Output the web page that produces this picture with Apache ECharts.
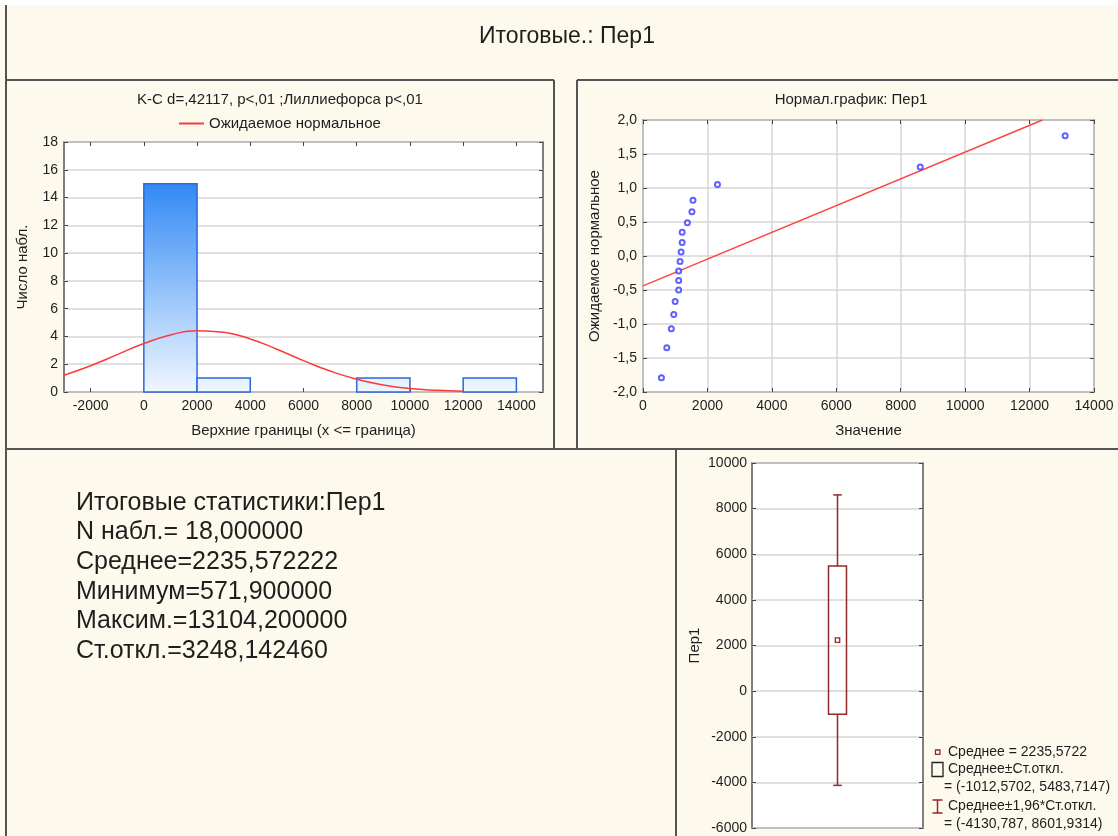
<!DOCTYPE html>
<html><head><meta charset="utf-8">
<script src="https://cdn.jsdelivr.net/npm/echarts@6/dist/echarts.min.js"></script>
<style>html,body{margin:0;padding:0;background:#fff;}#c{width:1118px;height:836px;}</style>
</head><body><div id="c"></div>
<script>
// ---------- data ----------
const mainTitle = 'Итоговые.: Пер1';

const histTitle = 'K-C d=,42117, p<,01 ;Лиллиефорса p<,01';
const histLegend = 'Ожидаемое нормальное';
const histXName = 'Верхние границы (x <= граница)';
const histYName = 'Число набл.';
const histBinLow  = [0, 2000, 4000, 6000, 8000, 10000, 12000];
const histBinHigh = [2000, 4000, 6000, 8000, 10000, 12000, 14000];
const histCounts  = [15, 1, 0, 0, 1, 0, 1];
const histXTicks  = [-2000, 0, 2000, 4000, 6000, 8000, 10000, 12000, 14000];
const normCurveX  = [-3000, -2000, -1000, 0, 1000, 2000, 3000, 4000, 5000, 6000, 7000, 8000, 9000, 10000, 11000, 12000];
const normCurveY  = [1.21, 1.89, 2.69, 3.49, 4.11, 4.41, 4.30, 3.82, 3.08, 2.26, 1.51, 0.92, 0.51, 0.25, 0.12, 0.05];

const probTitle = 'Нормал.график: Пер1';
const probXName = 'Значение';
const probYName = 'Ожидаемое нормальное';
const probValues = [572, 738, 879, 955, 998, 1107, 1107, 1107, 1150, 1183, 1216, 1216, 1378, 1519, 1552, 2312, 8606, 13104];
const probScores = [-1.79, -1.35, -1.07, -0.86, -0.67, -0.50, -0.36, -0.22, -0.08, 0.06, 0.20, 0.35, 0.49, 0.65, 0.82, 1.05, 1.31, 1.77];
const probLineX = [0, 12400];
const probLineY = [-0.44, 2.0];

const boxName = 'Пер1';
const boxMean = [2235.5722];
const boxSd   = [-1012.5702, 5483.7147];
const boxCi   = [-4130.787, 8601.9314];
const boxLegendLines = ['Среднее = 2235,5722', 'Среднее±Ст.откл.', '= (-1012,5702, 5483,7147)', 'Среднее±1,96*Ст.откл.', '= (-4130,787, 8601,9314)'];

const statsLines = ['Итоговые статистики:Пер1', 'N набл.= 18,000000', 'Среднее=2235,572222', 'Минимум=571,900000', 'Максим.=13104,200000', 'Ст.откл.=3248,142460'];

// ---------- styles ----------
const FONT = '"Liberation Sans", Arial, sans-serif';
const TXT = '#1e1e1e';
const GRIDC = '#d6d6d6';
const BORDER = '#555';
const BOXRED = '#8e2a2a';
const lbl = {color: TXT, fontSize: 14, fontFamily: FONT};
const nameStyle = {color: TXT, fontSize: 15, fontFamily: FONT};
const tickIn = {show: true, inside: true, length: 4, lineStyle: {color: '#444', width: 1}};
const noLine = {show: false, onZero: false};
const intFmt = v => String(v);

const chart = echarts.init(document.getElementById('c'), null, {renderer: 'canvas'});

const gridBase = {show: true, backgroundColor: '#fff', borderColor: BORDER, borderWidth: 1.5, containLabel: false};

const option = {
  backgroundColor: '#fdf9ed',
  animation: false,
  textStyle: {fontFamily: FONT},
  legend: {
    data: [histLegend], left: 179, top: 116, padding: 0,
    icon: 'rect', itemWidth: 25, itemHeight: 2,
    textStyle: {color: TXT, fontSize: 15, fontFamily: FONT}
  },
  grid: [
    Object.assign({left: 64, top: 142, width: 479, height: 250}, gridBase),
    Object.assign({left: 643, top: 120, width: 451, height: 272}, gridBase),
    Object.assign({left: 752, top: 463, width: 171, height: 365}, gridBase)
  ],
  xAxis: [
    {gridIndex: 0, type: 'value', min: -3000, max: 15000, position: 'bottom',
     axisLine: noLine, axisTick: Object.assign({customValues: histXTicks}, tickIn),
     axisLabel: Object.assign({customValues: histXTicks, formatter: intFmt, margin: 7}, lbl),
     splitLine: {show: false},
     name: histXName, nameLocation: 'middle', nameGap: 31, nameTextStyle: nameStyle},
    {gridIndex: 0, type: 'value', min: -3000, max: 15000, position: 'top',
     axisLine: noLine, axisTick: Object.assign({customValues: histXTicks}, tickIn),
     axisLabel: {show: false, customValues: histXTicks}, splitLine: {show: false}},
    {gridIndex: 1, type: 'value', min: 0, max: 14000, interval: 2000, position: 'bottom',
     axisLine: noLine, axisTick: tickIn,
     axisLabel: Object.assign({formatter: intFmt, margin: 7}, lbl),
     splitLine: {show: true, lineStyle: {color: GRIDC, width: 1.5}},
     name: probXName, nameLocation: 'middle', nameGap: 31, nameTextStyle: nameStyle},
    {gridIndex: 1, type: 'value', min: 0, max: 14000, interval: 2000, position: 'top',
     axisLine: noLine, axisTick: tickIn, axisLabel: {show: false}, splitLine: {show: false}},
    {gridIndex: 2, type: 'category', data: [boxName], position: 'bottom',
     axisLine: noLine, axisTick: {show: false}, axisLabel: {show: false}, splitLine: {show: false}}
  ],
  yAxis: [
    {gridIndex: 0, type: 'value', min: 0, max: 18, interval: 2, position: 'left',
     axisLine: noLine, axisTick: tickIn,
     axisLabel: Object.assign({formatter: intFmt, margin: 6}, lbl),
     splitLine: {show: true, lineStyle: {color: GRIDC, width: 1.5}},
     name: histYName, nameLocation: 'middle', nameGap: 34, nameTextStyle: nameStyle},
    {gridIndex: 0, type: 'value', min: 0, max: 18, interval: 2, position: 'right',
     axisLine: noLine, axisTick: tickIn, axisLabel: {show: false}, splitLine: {show: false}},
    {gridIndex: 1, type: 'value', min: -2, max: 2, interval: 0.5, position: 'left',
     axisLine: noLine, axisTick: tickIn,
     axisLabel: Object.assign({formatter: v => v.toFixed(1).replace('.', ','), margin: 6}, lbl),
     splitLine: {show: true, lineStyle: {color: GRIDC, width: 1.5}},
     name: probYName, nameLocation: 'middle', nameGap: 41, nameTextStyle: nameStyle},
    {gridIndex: 1, type: 'value', min: -2, max: 2, interval: 0.5, position: 'right',
     axisLine: noLine, axisTick: tickIn, axisLabel: {show: false}, splitLine: {show: false}},
    {gridIndex: 2, type: 'value', min: -6000, max: 10000, interval: 2000, position: 'left',
     axisLine: noLine, axisTick: tickIn,
     axisLabel: Object.assign({formatter: intFmt, margin: 5}, lbl),
     splitLine: {show: true, lineStyle: {color: GRIDC, width: 1.5}},
     name: boxName, nameLocation: 'middle', nameGap: 50, nameTextStyle: nameStyle},
    {gridIndex: 2, type: 'value', min: -6000, max: 10000, interval: 2000, position: 'right',
     axisLine: noLine, axisTick: tickIn, axisLabel: {show: false}, splitLine: {show: false}}
  ],
  series: [
    {
      type: 'custom', name: 'hist', xAxisIndex: 0, yAxisIndex: 0, z: 2,
      data: histBinLow.map((lo, i) => [lo, histBinHigh[i], histCounts[i]]),
      encode: {x: [0, 1], y: 2},
      renderItem: function (params, api) {
        const c = api.value(2);
        if (!c) return null;
        const p0 = api.coord([api.value(0), 0]);
        const p1 = api.coord([api.value(1), c]);
        const yTop = api.coord([0, 18])[1];
        return {
          type: 'rect',
          shape: {x: p0[0], y: p1[1], width: p1[0] - p0[0], height: p0[1] - p1[1]},
          style: {
            fill: {type: 'linear', x: 0, y: yTop, x2: 0, y2: p0[1], global: true,
                   colorStops: [{offset: 0, color: '#0a74f2'}, {offset: 1, color: '#f0f7ff'}]},
            stroke: '#2f66d8', lineWidth: 1.5
          }
        };
      }
    },
    {
      type: 'line', name: histLegend, xAxisIndex: 0, yAxisIndex: 0, z: 3,
      data: normCurveX.map((x, i) => [x, normCurveY[i]]),
      smooth: true, symbol: 'none', showSymbol: false,
      lineStyle: {color: '#ff3838', width: 1.5}, itemStyle: {color: '#ff3838'}
    },
    {
      type: 'line', name: 'fit', xAxisIndex: 2, yAxisIndex: 2, z: 3,
      data: probLineX.map((x, i) => [x, probLineY[i]]),
      symbol: 'none', lineStyle: {color: '#ff4444', width: 1.5}
    },
    {
      type: 'scatter', name: 'obs', xAxisIndex: 2, yAxisIndex: 2, z: 4,
      data: probValues.map((v, i) => [v, probScores[i]]),
      symbol: 'emptyCircle', symbolSize: 5,
      itemStyle: {color: '#3a3aff', borderWidth: 1.5}
    },
    {
      type: 'custom', name: 'box', xAxisIndex: 4, yAxisIndex: 4, z: 3,
      data: [[0, boxMean[0], boxSd[0], boxSd[1], boxCi[0], boxCi[1]]],
      renderItem: function (params, api) {
        const x = api.coord([api.value(0), 0])[0];
        const yMean = api.coord([0, api.value(1)])[1];
        const ySdLo = api.coord([0, api.value(2)])[1];
        const ySdHi = api.coord([0, api.value(3)])[1];
        const yCiLo = api.coord([0, api.value(4)])[1];
        const yCiHi = api.coord([0, api.value(5)])[1];
        const bw = 18, cw = 8.5;
        const st = {stroke: BOXRED, lineWidth: 1.5, fill: null};
        return {
          type: 'group',
          children: [
            {type: 'line', shape: {x1: x, y1: yCiHi, x2: x, y2: ySdHi}, style: st},
            {type: 'line', shape: {x1: x, y1: ySdLo, x2: x, y2: yCiLo}, style: st},
            {type: 'line', shape: {x1: x - cw / 2, y1: yCiHi, x2: x + cw / 2, y2: yCiHi}, style: st},
            {type: 'line', shape: {x1: x - cw / 2, y1: yCiLo, x2: x + cw / 2, y2: yCiLo}, style: st},
            {type: 'rect', shape: {x: x - bw / 2, y: ySdHi, width: bw, height: ySdLo - ySdHi}, style: {stroke: BOXRED, lineWidth: 1.5, fill: 'rgba(0,0,0,0)'}},
            {type: 'rect', shape: {x: x - 2.2, y: yMean - 2.2, width: 4.4, height: 4.4}, style: {stroke: BOXRED, lineWidth: 1.3, fill: '#fff'}}
          ]
        };
      }
    }
  ],
  graphic: []
};

// frame, titles, text block, box legend
const G = option.graphic;
const ln = (x1, y1, x2, y2) => G.push({type: 'line', silent: true, shape: {x1, y1, x2, y2}, style: {stroke: BORDER, lineWidth: 2}});
G.push({type: 'rect', silent: true, shape: {x: 0, y: 0, width: 1118, height: 5}, style: {fill: '#fff'}});
ln(6, 5, 6, 836);
ln(6, 80, 554, 80);
ln(554, 80, 554, 449);
ln(577, 80, 1118, 80);
ln(577, 80, 577, 449);
ln(6, 449, 1118, 449);
ln(676, 449, 676, 836);

const txt = (text, x, y, size, align) => G.push({type: 'text', silent: true, x, y,
  style: {text, font: size + 'px ' + FONT, fill: TXT, align: align || 'left', verticalAlign: 'middle'}});

txt(mainTitle, 567, 37, 23, 'center');
txt(histTitle, 280, 100, 15, 'center');
txt(probTitle, 851, 100, 15, 'center');
statsLines.forEach((s, i) => txt(s, 76, 503 + i * 29.6, 25, 'left'));

// box legend
G.push({type: 'rect', silent: true, shape: {x: 935.5, y: 750, width: 4.4, height: 4.4}, style: {stroke: BOXRED, lineWidth: 1.3, fill: '#fff'}});
txt(boxLegendLines[0], 948, 752, 14);
G.push({type: 'rect', silent: true, shape: {x: 932, y: 762.5, width: 11, height: 14}, style: {stroke: '#222', lineWidth: 1.3, fill: 'rgba(0,0,0,0)'}});
txt(boxLegendLines[1], 948, 769.5, 14);
txt(boxLegendLines[2], 944, 787, 14);
G.push({type: 'line', silent: true, shape: {x1: 937.5, y1: 800, x2: 937.5, y2: 813}, style: {stroke: BOXRED, lineWidth: 1.5}});
G.push({type: 'line', silent: true, shape: {x1: 932.5, y1: 800, x2: 942.5, y2: 800}, style: {stroke: BOXRED, lineWidth: 1.5}});
G.push({type: 'line', silent: true, shape: {x1: 932.5, y1: 813, x2: 942.5, y2: 813}, style: {stroke: BOXRED, lineWidth: 1.5}});
txt(boxLegendLines[3], 948, 806, 14);
txt(boxLegendLines[4], 944, 824, 14);

chart.setOption(option);
</script>
</body></html>
